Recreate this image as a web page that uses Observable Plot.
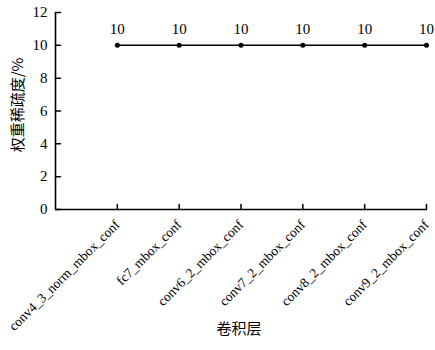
<!DOCTYPE html>
<html><head><meta charset="utf-8">
<script src="https://cdn.jsdelivr.net/npm/d3@7"></script>
<script src="https://cdn.jsdelivr.net/npm/@observablehq/plot@0.6"></script>
<style>
body{margin:0;background:#fff}
#chart svg text{font-family:"Liberation Serif",serif;}
#chart svg g.cjk text{font-family:"Noto Sans CJK SC",sans-serif;}
</style>
</head><body><div id="chart"></div>
<script>
const layers = ["conv4_3_norm_mbox_conf","fc7_mbox_conf","conv6_2_mbox_conf","conv7_2_mbox_conf","conv8_2_mbox_conf","conv9_2_mbox_conf"];
const sparsity = [10,10,10,10,10,10];
const yTicks = [0,2,4,6,8,10,12];
const yLabel = "权重稀疏度/%";
const xLabel = "卷积层";
const data = layers.map((name,i)=>({pos:i+1, name, value:sparsity[i]}));
const xTicks = layers.map((_,i)=>i+1);
const tickShape = {draw(context, l) { context.moveTo(0, 0); context.lineTo(0, -l); }};
const chart = Plot.plot({
  width:435, height:350, marginLeft:55, marginRight:9, marginTop:12, marginBottom:141,
  style:{fontSize:"14px", color:"#000", background:"#fff"},
  x:{domain:[0,layers.length]},
  y:{domain:[0,12]},
  marks:[
    Plot.axisY({ticks:yTicks, tickSize:0, tickPadding:8, label:null, fontSize:15}),
    Plot.axisX({ticks:xTicks, tickFormat:i=>layers[i-1], tickSize:0, tickPadding:13, tickRotate:-45, label:null, fontSize:13.5}),
    Plot.vector(yTicks, {x:0, y:d=>d, length:5, rotate:90, anchor:"start", shape:tickShape, stroke:"#000", strokeWidth:1.5}),
    Plot.vector(xTicks, {x:d=>d, y:0, length:5, rotate:0, anchor:"start", shape:tickShape, stroke:"#000", strokeWidth:1.5}),
    Plot.ruleY([0], {stroke:"#000", strokeWidth:1.6}),
    Plot.ruleX([0], {stroke:"#000", strokeWidth:1.6}),
    Plot.line(data, {x:"pos", y:"value", stroke:"#000", strokeWidth:1.5}),
    Plot.dot(data, {x:"pos", y:"value", fill:"#000", r:2.5}),
    Plot.text(data, {x:"pos", y:"value", text:d=>String(d.value), dy:-16, fontSize:15}),
    Plot.text([yLabel], {frameAnchor:"left", textAnchor:"middle", rotate:-90, dx:-37, dy:-6, fontSize:15, className:"cjk"}),
    Plot.text([xLabel], {frameAnchor:"bottom", dy:124, dx:-2, fontSize:15, className:"cjk"})
  ]
});
document.getElementById("chart").appendChild(chart);
</script>
</body></html>
